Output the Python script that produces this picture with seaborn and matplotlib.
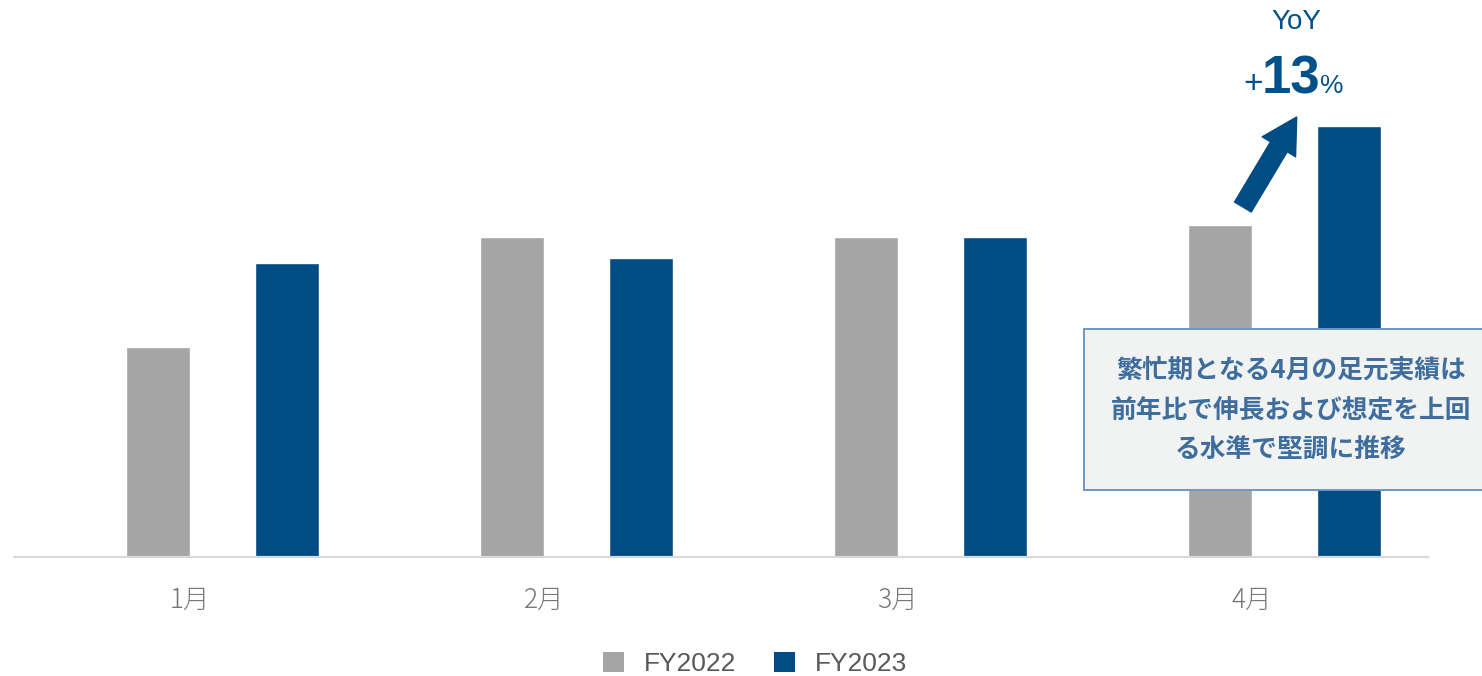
import matplotlib
matplotlib.use("Agg")
import matplotlib.pyplot as plt
from matplotlib.patches import Rectangle, Patch
import pandas as pd
import seaborn as sns

# Monthly volume by fiscal year (index units)
months = ["1月", "2月", "3月", "4月"]
years = ["FY2022", "FY2023"]
fy2022 = [210, 320, 320, 332]
fy2023 = [294, 299, 320, 431]

yoy_label = "YoY"
yoy_value = "13"
note_lines = ["繁忙期となる4月の足元実績は", "前年比で伸長および想定を上回", "る水準で堅調に推移"]

GRAY = "#A5A5A5"
BLUE = "#004C84"
TEXT_GRAY = "#767676"
ACCENT = "#00508A"
NOTE_BLUE = "#3F6E9E"

df = pd.DataFrame({
    "month": months * 2,
    "year": [years[0]] * 4 + [years[1]] * 4,
    "value": fy2022 + fy2023,
})

sns.set_theme(style="white")
plt.rcParams["font.family"] = ["Liberation Sans", "Noto Sans CJK JP", "DejaVu Sans"]

W, H = 1482, 676
fig = plt.figure(figsize=(W / 100, H / 100), dpi=100)
ax = fig.add_axes([14 / W, 119 / H, 1414 / W, 557 / H])

sns.barplot(data=df, x="month", y="value", hue="year", order=months,
            hue_order=years, palette=[GRAY, BLUE], width=0.729, gap=0.5,
            saturation=1, ax=ax, legend=False)

ax.set_xlim(-0.589, 3.406)
ax.set_ylim(0, 557)
ax.set_xlabel("")
ax.set_ylabel("")
ax.set_yticks([])
for side in ["left", "right", "top"]:
    ax.spines[side].set_visible(False)
ax.spines["bottom"].set_color("#D9D9D9")
ax.spines["bottom"].set_linewidth(1.6)

ax.set_xticks([i - 0.092 for i in range(len(months))])
ax.set_xticklabels(months, fontsize=19, color=TEXT_GRAY,
                   family=["Noto Sans CJK JP", "DejaVu Sans"], fontweight="light")
ax.tick_params(axis="x", length=0, pad=21)

# Growth arrow pointing at the latest FY2023 bar
ax.annotate("", xy=(3.035, 440), xytext=(2.883, 350),
            arrowprops=dict(arrowstyle="simple,head_length=25,head_width=28,tail_width=14",
                            mutation_scale=1, color=BLUE, shrinkA=0, shrinkB=0))

# YoY headline
fig.text(1296 / W, 1 - 22 / H, yoy_label, ha="center", va="center",
         fontsize=20, color=ACCENT)
base_y = 1 - 93 / H
fig.text(1290.5 / W, base_y, yoy_value, ha="center", va="baseline",
         fontsize=38, fontweight="bold", color=ACCENT)
fig.text(1263 / W, base_y, "+", ha="right", va="baseline",
         fontsize=24, color=ACCENT)
fig.text(1320 / W, base_y, "%", ha="left", va="baseline",
         fontsize=19, color=ACCENT)

# Commentary box
box = Rectangle((1084 / W, (H - 490) / H), (1510 - 1084) / W, 161 / H,
                transform=fig.transFigure, facecolor="#F1F3F3",
                edgecolor="#6F97C0", linewidth=1.4, zorder=5)
fig.add_artist(box)
fig.text(1291 / W, 1 - 410 / H, "\n".join(note_lines), ha="center", va="center",
         fontsize=18.5, fontweight="bold", color=NOTE_BLUE, linespacing=1.62,
         family=["Noto Sans CJK JP", "DejaVu Sans"], zorder=6)

handles = [Patch(facecolor=GRAY, edgecolor="none"), Patch(facecolor=BLUE, edgecolor="none")]
fig.legend(handles, years, loc="center", bbox_to_anchor=(755 / W, 12 / H),
           ncol=2, frameon=False, fontsize=19, labelcolor="#595959",
           handlelength=0.78, handleheight=0.78, handletextpad=0.75,
           columnspacing=1.45)

fig.savefig("out.png", dpi=100)
